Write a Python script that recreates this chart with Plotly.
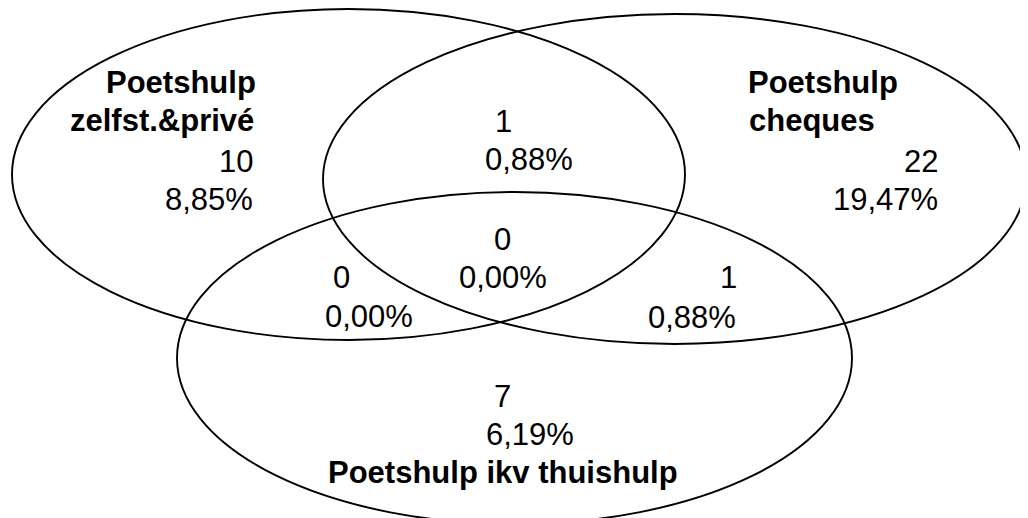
import plotly.graph_objects as go

# ---- data ----
set_names = ["Poetshulp zelfst.&amp;privé", "Poetshulp cheques", "Poetshulp ikv thuishulp"]
region_labels = ["A only", "B only", "C only", "A∩B", "A∩B∩C", "A∩C", "B∩C"]
region_counts = [10, 22, 7, 1, 0, 0, 1]
region_pcts = [8.85, 19.47, 6.19, 0.88, 0.00, 0.00, 0.88]

def fmt_pct(v):
    return f"{v:.2f}".replace(".", ",") + "%"

# ---- geometry (page pixel coordinates, y downward) ----
PAGE_W, PAGE_H = 1028, 518
OFF = 8  # default page body margin
W, H = PAGE_W - OFF, PAGE_H - OFF
FS = 31
FONT = "Arial, Liberation Sans, sans-serif"

ellipses = [  # x0, y0, x1, y1
    (12, 9, 685, 340),
    (323, 14, 1026, 344),
    (177, 192, 852, 524),
]

fig = go.Figure()
fig.add_trace(go.Scatter(x=[], y=[], mode="markers", showlegend=False))

for (x0, y0, x1, y1) in ellipses:
    fig.add_shape(type="circle", xref="x", yref="y", x0=x0, y0=y0, x1=x1, y1=y1,
                  line=dict(color="black", width=1.9), fillcolor="rgba(0,0,0,0)")

def txt(text, x, baseline, anchor, bold=False):
    if bold:
        text = f"<b>{text}</b>"
    shift = {"left": -2, "right": 2, "center": 0}[anchor]
    fig.add_annotation(x=x + shift, y=baseline - 0.35 * FS, text=text, showarrow=False,
                       xref="x", yref="y", xanchor=anchor, yanchor="middle",
                       align=anchor, font=dict(family=FONT, size=FS, color="black"))

# set name pieces
a_name = set_names[0].split(" ", 1)
b_name = set_names[1].split(" ", 1)

# Left set (A only)
txt(a_name[0], 256, 93, "right", True)
txt(a_name[1], 254, 131, "right", True)
txt(str(region_counts[0]), 253, 172, "right")
txt(fmt_pct(region_pcts[0]), 253, 210, "right")

# Right set (B only)
txt(b_name[0], 748, 93, "left", True)
txt(b_name[1], 749, 131, "left", True)
txt(str(region_counts[1]), 938, 172, "right")
txt(fmt_pct(region_pcts[1]), 938, 210, "right")

# A∩B
txt(str(region_counts[3]), 503, 132, "center")
txt(fmt_pct(region_pcts[3]), 529, 170, "center")

# A∩B∩C
txt(str(region_counts[4]), 502, 250, "center")
txt(fmt_pct(region_pcts[4]), 502.5, 288, "center")

# A∩C
txt(str(region_counts[5]), 341.5, 288, "center")
txt(fmt_pct(region_pcts[5]), 369, 327, "center")

# B∩C
txt(str(region_counts[6]), 737, 288, "right")
txt(fmt_pct(region_pcts[6]), 736, 328, "right")

# C only
txt(str(region_counts[2]), 502, 407, "center")
txt(fmt_pct(region_pcts[2]), 530, 445, "center")
txt(set_names[2], 502.5, 483, "center", True)

fig.update_layout(
    width=W, height=H,
    margin=dict(l=0, r=0, t=0, b=0),
    paper_bgcolor="white", plot_bgcolor="white",
    xaxis=dict(range=[OFF, PAGE_W], visible=False, fixedrange=True),
    yaxis=dict(range=[PAGE_H, OFF], visible=False, fixedrange=True),
    showlegend=False,
)

fig.write_html("out.html")
